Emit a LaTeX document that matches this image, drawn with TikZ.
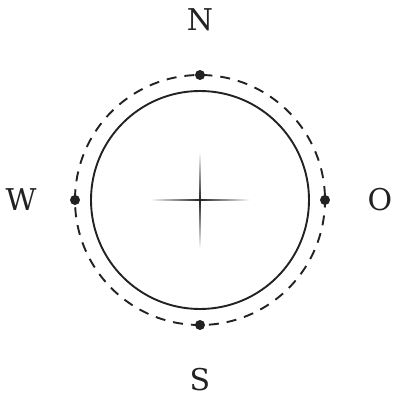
\documentclass[tikz,border=0pt]{standalone}
\usepackage{fontspec}
\setmainfont{DejaVu Serif}
\usetikzlibrary{shadings}
\definecolor{ink}{HTML}{222222}
\begin{document}
\begin{tikzpicture}[x=1pt,y=1pt,
  lbl/.style={text=ink,font=\fontsize{30}{30}\selectfont,inner sep=0pt,anchor=center},
  dotmark/.style={circle,fill=ink,inner sep=0pt,minimum size=10pt}]
\useasboundingbox[fill=white] (-200,-200) rectangle (200,200);
\coordinate (c) at (0,0);
\draw[ink,line width=1.9pt] (c) circle[radius=109];
\draw[ink,line width=1.9pt,dash pattern=on 10pt off 8pt,dash phase=-4pt] (c) circle[radius=125];
\node[dotmark] (dn) at (0,125) {};
\node[dotmark] (ds) at (0,-125) {};
\node[dotmark] (dw) at (-125,0) {};
\node[dotmark] (de) at (125,0) {};
\node[lbl] (N) at (0,180) {N};
\node[lbl] (S) at (0,-180) {S};
\node[lbl] (W) at (-179,0) {W};
\node[lbl] (O) at (180,0) {O};
\shade[left color=white,right color=white,middle color=ink] (-50,-0.75) rectangle (50,0.75);
\shade[top color=white,bottom color=white,middle color=ink] (-0.75,-48) rectangle (0.75,48);
\end{tikzpicture}
\end{document}
